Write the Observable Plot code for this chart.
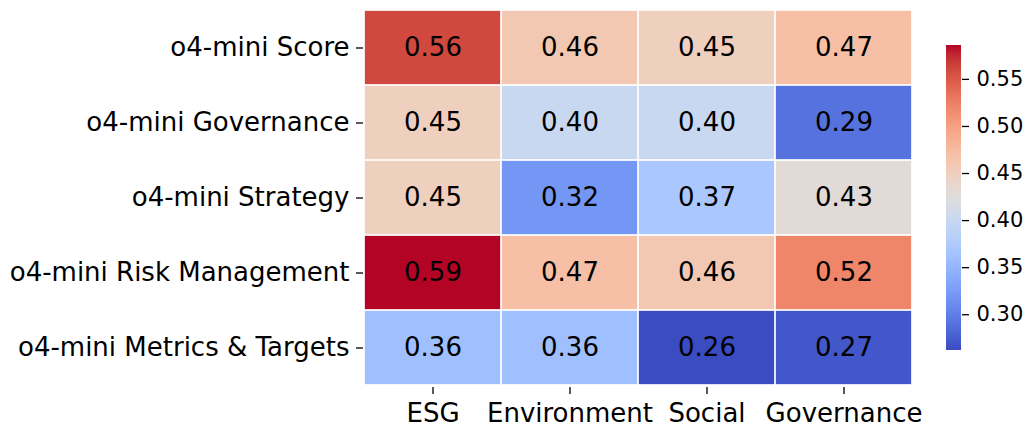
<!DOCTYPE html>
<html>
<head>
<meta charset="utf-8">
<script src="https://cdn.jsdelivr.net/npm/d3@7"></script>
<script src="https://cdn.jsdelivr.net/npm/@observablehq/plot@0.6"></script>
<style>
  html, body { margin: 0; padding: 0; background: #fff; }
  #wrap { position: relative; width: 1029px; height: 432px; overflow: hidden; }
  #wrap > div { position: absolute; top: 0; }
</style>
</head>
<body>
<div id="wrap"><div id="heat" style="left:0"></div><div id="bar" style="left:940px"></div></div>
<script>
const rows = ["o4-mini Score", "o4-mini Governance", "o4-mini Strategy", "o4-mini Risk Management", "o4-mini Metrics & Targets"];
const columns = ["ESG", "Environment", "Social", "Governance"];
const values = [
  [0.56, 0.46, 0.45, 0.47],
  [0.45, 0.40, 0.40, 0.29],
  [0.45, 0.32, 0.37, 0.43],
  [0.59, 0.47, 0.46, 0.52],
  [0.36, 0.36, 0.26, 0.27]
];
const colorDomain = [0.262, 0.586];
const colorbarTicks = [0.30, 0.35, 0.40, 0.45, 0.50, 0.55];

// matplotlib "coolwarm" (Moreland) control colours
const coolwarm = [
  [59,76,192],[68,90,204],[77,104,215],[87,117,225],[98,130,234],[108,142,241],
  [119,154,247],[130,165,251],[141,176,254],[152,185,255],[163,194,255],[174,201,253],
  [184,208,249],[194,213,244],[204,217,238],[213,219,230],[221,221,221],[229,216,209],
  [236,211,197],[241,204,185],[245,196,173],[247,187,160],[247,177,148],[247,166,135],
  [244,154,123],[241,141,111],[236,127,99],[229,112,88],[222,96,77],[213,80,66],
  [203,62,56],[192,40,47],[180,4,38]
].map(c => d3.rgb(...c).formatHex());
const interp = d3.piecewise(d3.interpolateRgb, coolwarm);

const table = [];
rows.forEach((r, i) => columns.forEach((c, j) => table.push({row: r, col: c, value: values[i][j]})));

const font = "'DejaVu Sans', sans-serif";

const heat = Plot.plot({
  width: 1029,
  height: 432,
  marginLeft: 363,
  marginRight: 117,
  marginTop: 7.5,
  marginBottom: 45,
  style: {fontFamily: font, fontSize: "26px", color: "#000", background: "#fff"},
  x: {domain: columns, padding: 0, label: null},
  y: {domain: rows, padding: 0, label: null},
  color: {type: "linear", domain: colorDomain, interpolate: interp, clamp: true},
  marks: [
    Plot.cell(table, {x: "col", y: "row", fill: "value", inset: 0.85}),
    Plot.text(table, {x: "col", y: "row", text: d => d.value.toFixed(2), fill: "#000", fontSize: 26}),
    Plot.axisX({tickSize: 7, tickPadding: 9.5, fontSize: 26, strokeWidth: 1.3, label: null}),
    Plot.axisY({tickSize: 7, tickPadding: 7, fontSize: 26, strokeWidth: 1.3, label: null})
  ]
});
document.getElementById("heat").appendChild(heat);

// colorbar
const step = (colorDomain[1] - colorDomain[0]) / 200;
const strips = d3.range(200).map(i => ({y1: colorDomain[0] + i * step, y2: colorDomain[0] + (i + 1) * step}));
const bar = Plot.plot({
  width: 89,
  height: 432,
  marginLeft: 6,
  marginRight: 68,
  marginTop: 45,
  marginBottom: 82,
  style: {fontFamily: font, fontSize: "21px", color: "#000", background: "transparent"},
  x: {domain: [0, 1], axis: null},
  y: {domain: colorDomain, label: null, axis: null},
  color: {type: "linear", domain: colorDomain, interpolate: interp},
  marks: [
    Plot.rect(strips, {x1: 0, x2: 1, y1: "y1", y2: "y2", fill: d => (d.y1 + d.y2) / 2, inset: 0, shapeRendering: "crispEdges"}),
    Plot.axisY({anchor: "right", ticks: colorbarTicks, tickFormat: d3.format(".2f"), tickSize: 7, tickPadding: 8, fontSize: 21, strokeWidth: 1.3, label: null})
  ]
});
document.getElementById("bar").appendChild(bar);
</script>
</body>
</html>
